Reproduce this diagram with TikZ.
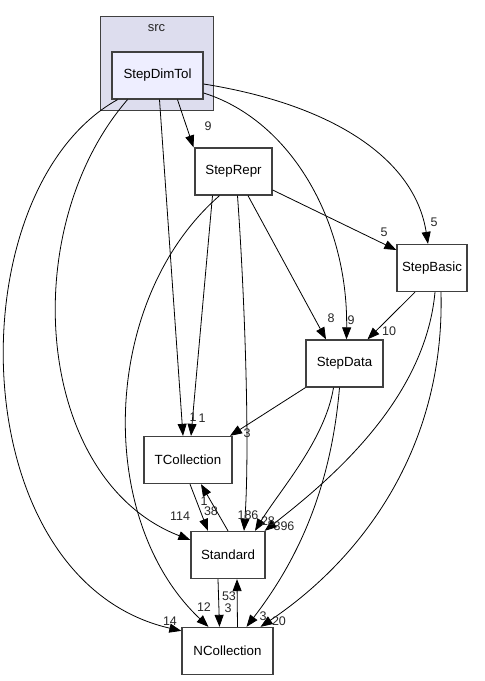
\documentclass[tikz,border=0pt]{standalone}
\usepackage{fontspec}
\setmainfont{Liberation Sans}
\usetikzlibrary{arrows.meta}
\definecolor{clusterfill}{HTML}{DDDDEE}
\definecolor{dirfill}{HTML}{EEEEFF}
\definecolor{boxline}{HTML}{404040}
\tikzset{
    dir box/.style={
        draw=boxline,line width=1.3pt,
        fill=white,
        minimum height=47pt,inner sep=0pt,
        font=\fontsize{13.3}{15}\selectfont
    },
    >={Triangle[length=12pt,width=9pt]},
    dep/.style={->,black,line width=0.8pt},
    edge label/.style={inner sep=0pt,font=\fontsize{12.5}{14}\selectfont,text=black!85},
}
\begin{document}
\begin{tikzpicture}[x=1pt,y=-1pt]
                \useasboundingbox (0,0) rectangle (485,681);
                \node[draw=boxline,line width=1pt,fill=clusterfill,minimum width=113pt,minimum height=94pt] (srcbox) at (156.5,63) {};
                \node[edge label,font=\fontsize{13}{15}\selectfont] (srclabel) at (156.5,28) {src};
                \node[dir box,fill=dirfill,minimum width=91pt] (StepDimTol) at (157.5,75.5) {StepDimTol};
                \foreach \name/\x/\y/\w in {StepRepr/233.5/171.5/77,StepBasic/432/268/70,
                    StepData/344.5/363.5/77,TCollection/188/460/88,
                    Standard/228/555/74,NCollection/227.5/651/91}
                \node[dir box,minimum width=\w pt] (\name) at (\x,\y) {\name};
                % StepDimTol
                \draw[dep] ([xshift=20]StepDimTol.south) -- ([xshift=-40]StepRepr.north);
                \draw[dep] ([yshift=-8.5]StepDimTol.east) .. controls (335,105) and (415,160) .. ([xshift=-4]StepBasic.north);
                \draw[dep] ([yshift=-17.5]StepDimTol.east) .. controls (290,120) and (348,220) .. ([xshift=2]StepData.north);
                \draw[dep] ([xshift=2]StepDimTol.south) -- ([xshift=-5]TCollection.north);
                \draw[dep] ([xshift=-30]StepDimTol.south) .. controls (15,230) and (35,480) .. ([yshift=15]Standard.west);
                \draw[dep] ([xshift=-40]StepDimTol.south) .. controls (-45,190) and (-40,580) .. ([yshift=-4]NCollection.north west);
                % StepRepr
                \draw[dep] ([yshift=-18.5]StepRepr.east) -- ([yshift=18]StepBasic.west);
                \draw[dep] ([xshift=14.5]StepRepr.south) -- ([xshift=-18.5]StepData.north);
                \draw[dep] ([xshift=-21]StepRepr.south) -- ([xshift=3]TCollection.north);
                \draw[dep] ([xshift=4]StepRepr.south) .. controls (245,300) and (250,450) .. ([xshift=16]Standard.north);
                \draw[dep] ([xshift=-14]StepRepr.south) .. controls (100,300) and (95,520) .. ([xshift=-19]NCollection.north);
                % StepBasic
                \draw[dep] ([xshift=-17]StepBasic.south) -- ([xshift=23]StepData.north);
                \draw[dep] ([xshift=3]StepBasic.south) .. controls (425,400) and (330,480) .. ([xshift=-1]Standard.north east);
                \draw[dep] ([xshift=9]StepBasic.south) .. controls (445,450) and (360,560) .. ([xshift=33]NCollection.north);
                % StepData
                \draw[dep] (StepData.south west) -- ([xshift=42]TCollection.north);
                \draw[dep] ([xshift=-11]StepData.south) .. controls (325,440) and (280,490) .. ([xshift=27]Standard.north);
                \draw[dep] ([xshift=-5]StepData.south) .. controls (330,500) and (290,570) .. ([xshift=19]NCollection.north);
                % TCollection, Standard, NCollection
                \draw[dep] ([xshift=2]TCollection.south) -- ([xshift=-20]Standard.north);
                \draw[dep] (Standard.north) -- ([xshift=13]TCollection.south);
                \draw[dep] ([xshift=-10]Standard.south) -- ([xshift=-8]NCollection.north);
                \draw[dep] ([xshift=10]NCollection.north) -- ([xshift=9]Standard.south);
                % edge labels
                \foreach \txt/\x/\y [count=\k] in {9/208/126,5/434/222,9/351/320,1/193/417,
                    114/180/516,14/170/621,5/384/232,8/331/318,1/202/418,186/248/515,
                    12/204/607,10/389/331,396/284/526,20/279/621,3/247/433,28/268/521,
                    3/263/616,38/211/511,1/204/501,3/228/608,53/229/596}
                \node[edge label] (lbl\k) at (\x,\y) {\txt};
            \end{tikzpicture}
\end{document}
